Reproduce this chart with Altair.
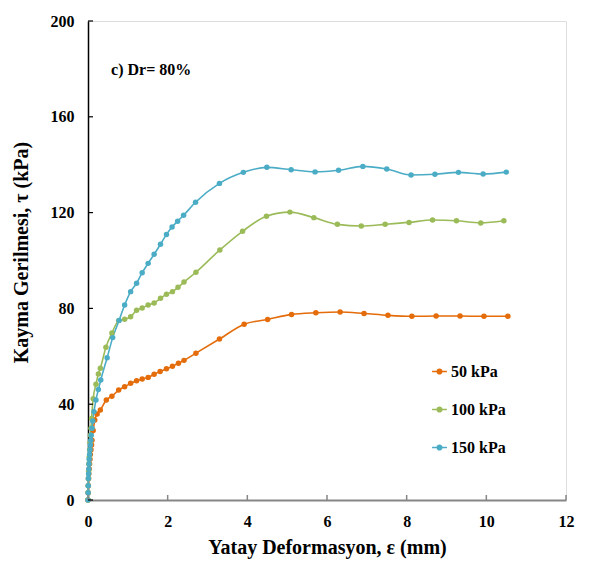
import altair as alt
import pandas as pd

# ---- data ----
series_names = ["50 kPa", "100 kPa", "150 kPa"]
colors = ["#E46C0A", "#9BBB59", "#4BACC6"]

x_50 = [0, 0.005, 0.01, 0.015, 0.02, 0.03, 0.04, 0.05, 0.06, 0.075, 0.09, 0.1, 0.13, 0.17, 0.23,
        0.31, 0.46, 0.60, 0.77, 0.92, 1.07, 1.22, 1.36, 1.51, 1.66, 1.81, 1.97, 2.12, 2.27, 2.41,
        2.71, 3.30, 3.92, 4.51, 5.11, 5.72, 6.33, 6.93, 7.53, 8.13, 8.74, 9.34, 9.94, 10.54]
y_50 = [0, 3, 6, 9, 11, 13, 15, 17, 19, 21, 23, 25, 29, 33.4, 35.9,
        37.6, 41.8, 43.3, 45.9, 47.3, 48.7, 49.8, 50.5, 51.2, 52.5, 53.7, 54.8, 55.8, 57.1, 58.3,
        61.3, 67.2, 73.4, 75.4, 77.5, 78.2, 78.5, 77.9, 77.1, 76.7, 76.8, 76.8, 76.7, 76.7]

x_100 = [0, 0.003, 0.006, 0.01, 0.015, 0.02, 0.03, 0.04, 0.05, 0.06, 0.075, 0.09, 0.13, 0.20,
         0.26, 0.31, 0.45, 0.60, 0.77, 0.92, 1.07, 1.22, 1.36, 1.51, 1.66, 1.82, 1.97, 2.12, 2.26,
         2.41, 2.71, 3.31, 3.88, 4.48, 5.07, 5.67, 6.26, 6.86, 7.46, 8.06, 8.65, 9.25, 9.86, 10.44]
y_100 = [0, 3, 6, 9, 12, 15, 18, 21, 24, 27, 30, 34, 42.3, 48.3,
         52.6, 55, 63.8, 69.7, 74.9, 75.5, 76.5, 79.2, 80.2, 81.4, 82.3, 84.2, 85.9, 87, 88.8,
         91, 95.1, 104.4, 112.2, 118.5, 120.2, 117.9, 115.1, 114.4, 115.1, 115.9, 116.9, 116.6, 115.7, 116.6]

x_150 = [0, 0.003, 0.006, 0.01, 0.015, 0.02, 0.025, 0.03, 0.04, 0.05, 0.06, 0.07, 0.08, 0.1, 0.12,
         0.15, 0.20, 0.26, 0.32, 0.48, 0.62, 0.78, 0.92, 1.07, 1.22, 1.36, 1.51, 1.66, 1.82, 1.97,
         2.11, 2.25, 2.40, 2.70, 3.30, 3.90, 4.49, 5.10, 5.70, 6.29, 6.90, 7.50, 8.11, 8.71, 9.30,
         9.92, 10.50]
y_150 = [0, 3, 6, 9, 11, 13, 15, 17, 19, 21, 23, 25, 27, 30, 33,
         36.9, 41.8, 46.1, 50.1, 59.4, 67.8, 75, 81.4, 87, 90.5, 94.9, 98.8, 102.6, 106.8, 110.9,
         114, 116.4, 118.9, 124.3, 132.2, 136.8, 138.9, 137.9, 137, 137.7, 139.3, 138.2, 135.7, 136, 136.8,
         136.1, 136.9]

x_ticks = [0, 2, 4, 6, 8, 10, 12]
y_ticks = [0, 40, 80, 120, 160, 200]
annotation = "c) Dr= 80%"

rows = []
for name, xs, ys in [(series_names[0], x_50, y_50), (series_names[1], x_100, y_100),
                     (series_names[2], x_150, y_150)]:
    for i, (a, b) in enumerate(zip(xs, ys)):
        rows.append({"series": name, "x": a, "y": b, "i": i})
df = pd.DataFrame(rows)

FONT = "Liberation Serif"

xscale = alt.Scale(domain=[0, 12], nice=False, zero=False)
yscale = alt.Scale(domain=[0, 200], nice=False)

color = alt.Color(
    "series:N",
    scale=alt.Scale(domain=series_names, range=colors),
    legend=alt.Legend(
        title=None, orient="none", legendX=343, legendY=342,
        symbolType="M-1,0L1,0M-0.3,0A0.3,0.3,0,1,1,0.3,0A0.3,0.3,0,1,1,-0.3,0Z",
        symbolSize=220, symbolStrokeWidth=1.6,
        labelFont=FONT, labelFontWeight="bold", labelFontSize=16, labelColor="black",
        rowPadding=21, labelOffset=3,
    ),
)

base = alt.Chart(df)

lines = base.mark_line(strokeWidth=1.6, interpolate="monotone").encode(
    x=alt.X("x:Q", scale=xscale,
            axis=alt.Axis(values=x_ticks, title="Yatay Deformasyon, ε (mm)", grid=False,
                          ticks=False, domainColor="#868686", domainWidth=2, labelFlush=False,
                          labelFont=FONT, labelFontWeight="bold", labelFontSize=16,
                          labelColor="black", labelPadding=13,
                          titleFont=FONT, titleFontWeight="bold", titleFontSize=20,
                          titleColor="black", titlePadding=8)),
    y=alt.Y("y:Q", scale=yscale,
            axis=alt.Axis(values=y_ticks, title="Kayma Gerilmesi, τ (kPa)", grid=False,
                          ticks=False, domainColor="black", domainWidth=1.5, labelFlush=False,
                          labelFont=FONT, labelFontWeight="bold", labelFontSize=16,
                          labelColor="black", labelPadding=14,
                          titleFont=FONT, titleFontWeight="bold", titleFontSize=20,
                          titleColor="black", titleX=-57, titleY=231)),
    color=color,
    order="i:Q",
    detail="series:N",
)

points = base.mark_circle(size=30, opacity=1).encode(
    x=alt.X("x:Q", scale=xscale),
    y=alt.Y("y:Q", scale=yscale),
    color=alt.Color("series:N", scale=alt.Scale(domain=series_names, range=colors), legend=None),
)

xt = alt.Chart(pd.DataFrame({"v": x_ticks})).mark_rule(color="#868686", strokeWidth=1.5).encode(
    x=alt.X("v:Q", scale=xscale), y=alt.value(479), y2=alt.value(474))
yt = alt.Chart(pd.DataFrame({"v": y_ticks})).mark_rule(color="black", strokeWidth=1.2).encode(
    y=alt.Y("v:Q", scale=yscale), x=alt.value(0), x2=alt.value(5))

ann = alt.Chart(pd.DataFrame({"x": [0.58], "y": [179.5], "t": [annotation]})).mark_text(
    font=FONT, fontWeight="bold", fontSize=16, align="left", baseline="middle", color="black"
).encode(x=alt.X("x:Q", scale=xscale), y=alt.Y("y:Q", scale=yscale), text="t:N")

chart = alt.layer(lines, points, xt, yt, ann).properties(
    width=478, height=479,
    autosize=alt.AutoSizeParams(type="none"),
    padding={"left": 80, "top": 13, "right": 20, "bottom": 60},
).configure_view(stroke=None).configure(background="white")

chart.save("out.html", embed_options={"renderer": "svg", "actions": False})
